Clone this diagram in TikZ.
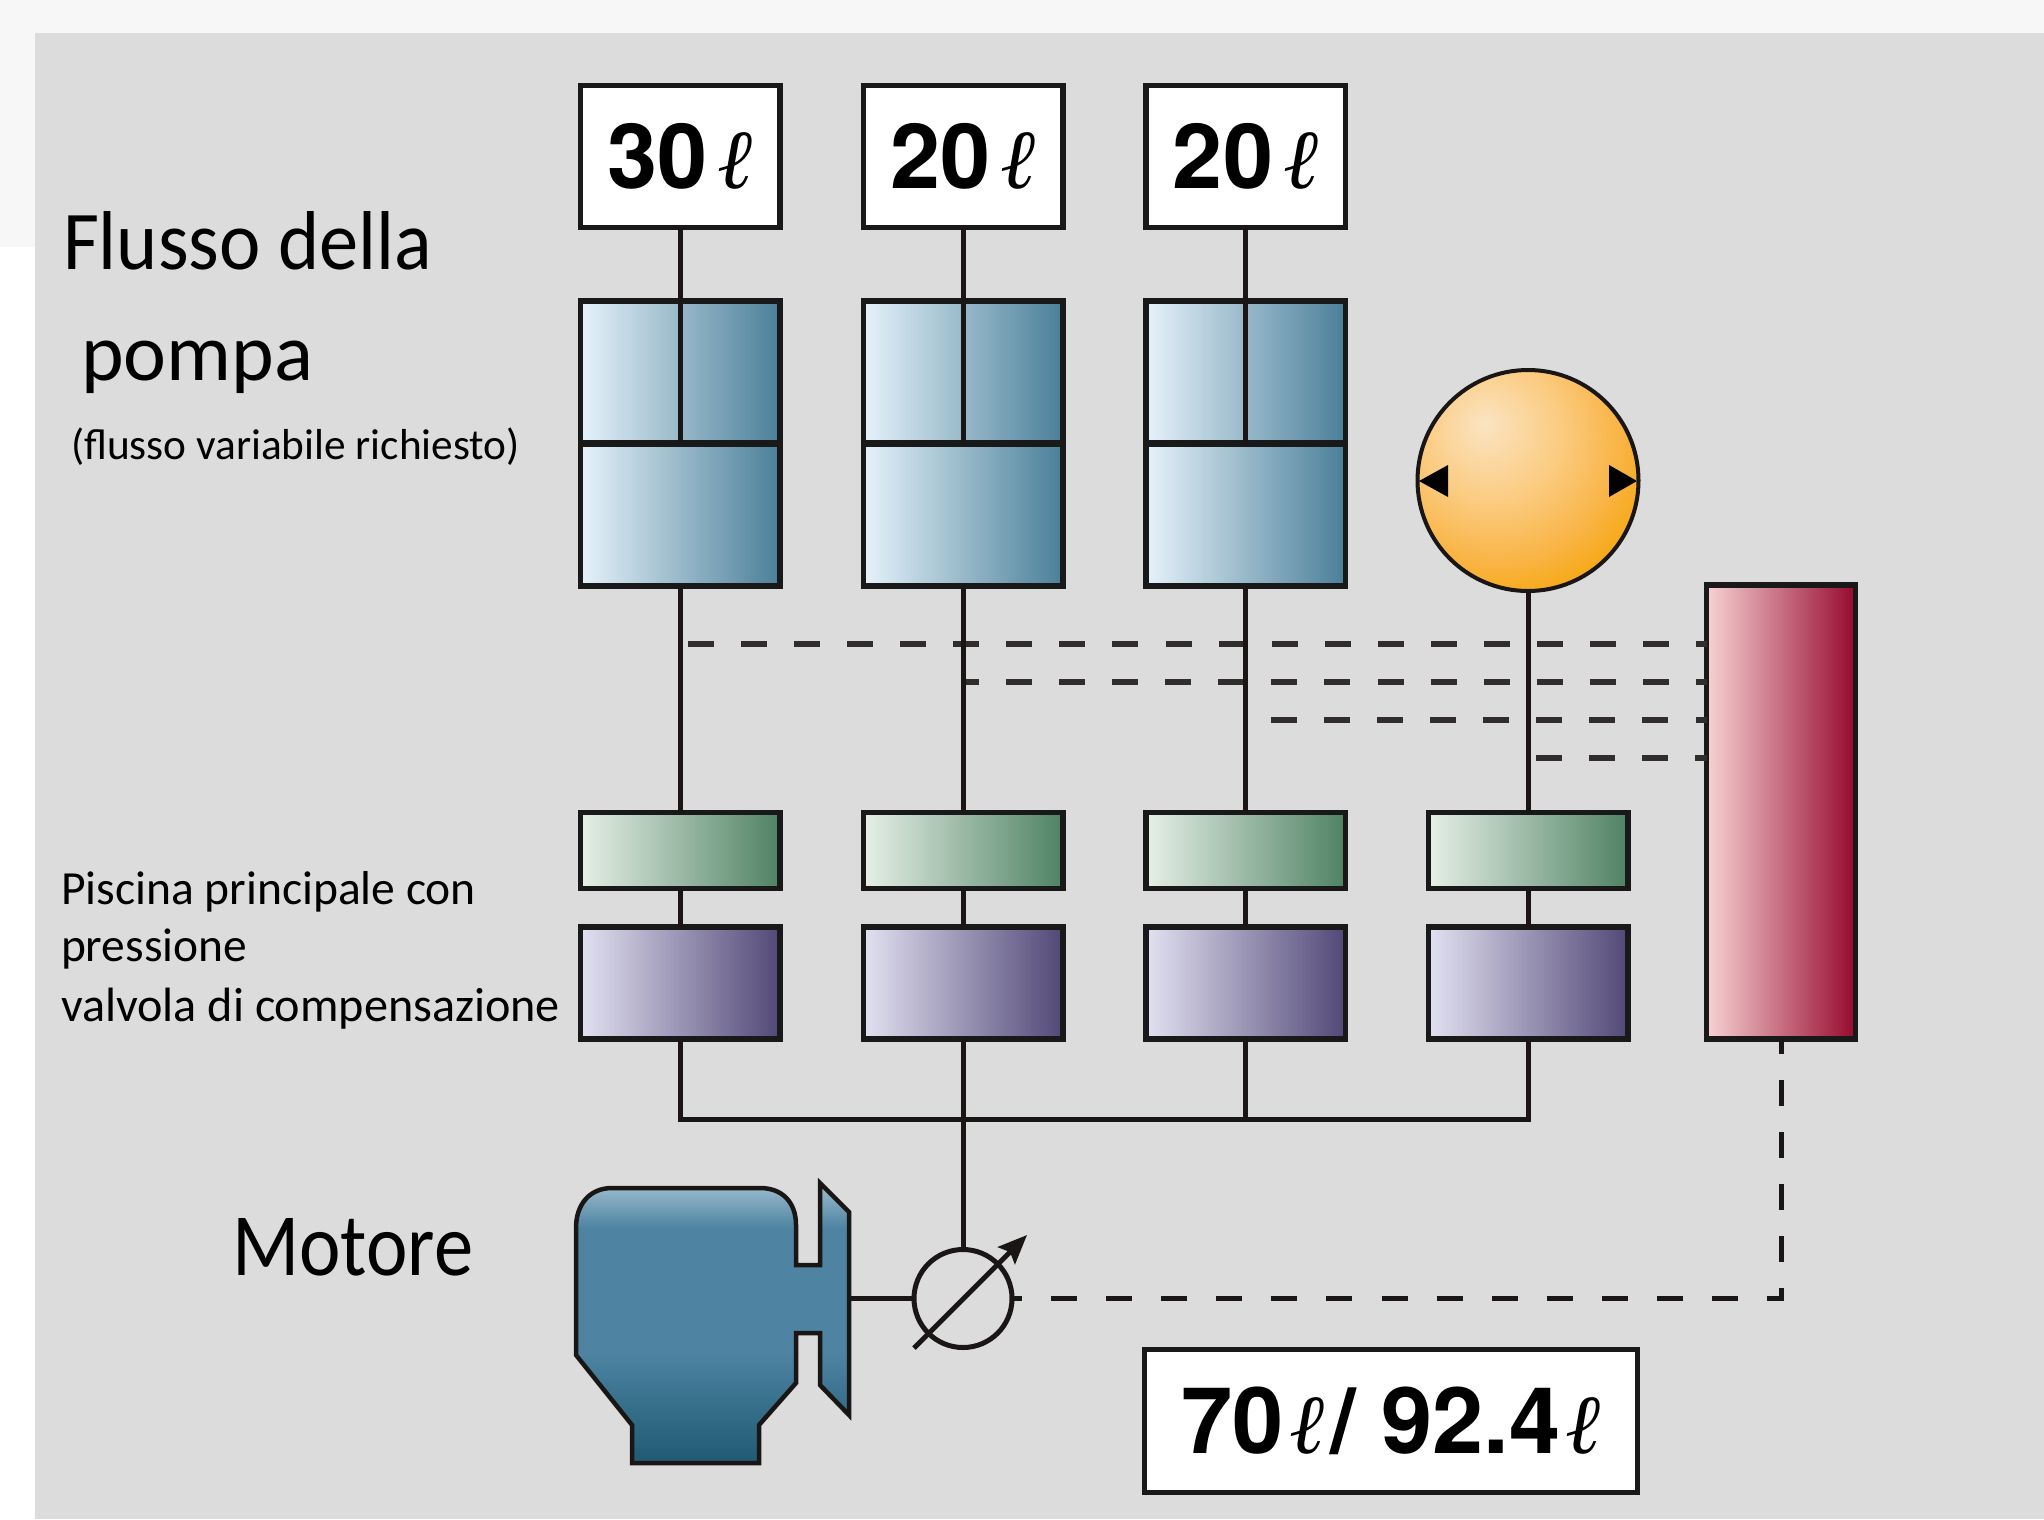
\documentclass[tikz,border=0pt]{standalone}
\usepackage{fontspec}
\usetikzlibrary{arrows.meta}
\setmainfont{Carlito}
\newfontfamily\heros{TeX Gyre Heros}
\newfontfamily\scriptell{Liberation Serif}
\definecolor{panelgray}{HTML}{DCDCDC}
\definecolor{inkdark}{HTML}{1A1616}
\definecolor{motorlow}{HTML}{1F5A73}
\definecolor{motormid}{HTML}{4E84A2}
\definecolor{motortop}{HTML}{A0BED0}
\definecolor{ballA}{HTML}{FBE4C2}
\definecolor{ballB}{HTML}{FBCB80}
\definecolor{ballC}{HTML}{F9B445}
\definecolor{ballD}{HTML}{F5A505}
\definecolor{blueL}{HTML}{E6F2FA}\definecolor{blueM}{HTML}{9CBCCD}\definecolor{blueR}{HTML}{4A7F99}
\definecolor{greenL}{HTML}{E6F0E6}\definecolor{greenM}{HTML}{A2BEA8}\definecolor{greenR}{HTML}{4F8264}
\definecolor{purpL}{HTML}{E2E1F1}\definecolor{purpM}{HTML}{9B94B6}\definecolor{purpR}{HTML}{524877}
\definecolor{redL}{HTML}{F7D2D3}\definecolor{redM}{HTML}{C8707E}\definecolor{redR}{HTML}{970A2F}
\pgfdeclareverticalshading{motorshade}{100bp}{
  color(0bp)=(motorlow); color(25bp)=(motorlow); color(45bp)=(motormid);
  color(67bp)=(motormid); color(75bp)=(motortop); color(100bp)=(motortop)}
\pgfdeclareradialshading{ballshade}{\pgfpoint{-10bp}{13bp}}{
  color(0bp)=(ballA); color(16bp)=(ballB); color(28bp)=(ballC); color(38bp)=(ballD); color(100bp)=(ballD)}
\newcommand{\ellmark}{{\scriptell\fontsize{84}{84}\selectfont\itshape ℓ}}
\newcommand{\flowtext}[1]{{\heros\bfseries\fontsize{90}{90}\selectfont #1}}
\newcommand{\sumtext}[1]{{\heros\bfseries\fontsize{92}{92}\selectfont #1}}
\tikzset{
  x=1pt,y=-1pt,
  conn/.style={draw=inkdark,line width=5pt},
  ctrl/.style={draw=inkdark!90,line width=6pt,dash pattern=on 26pt off 27.06pt},
  boxbase/.style={draw=black!90,line width=5.5pt,outer sep=0pt,inner sep=0pt,anchor=center},
  flowbox/.style={boxbase,fill=white,minimum width=199.5pt,minimum height=142pt},
  bluebox/.style={boxbase,minimum width=199.5pt,minimum height=142.5pt,left color=blueL,middle color=blueM,right color=blueR},
  greenbox/.style={boxbase,minimum width=199.5pt,minimum height=76pt,left color=greenL,middle color=greenM,right color=greenR},
  purplebox/.style={boxbase,minimum width=199.5pt,minimum height=112pt,left color=purpL,middle color=purpM,right color=purpR},
  redbox/.style={boxbase,minimum width=149pt,minimum height=454pt,left color=redL,middle color=redM,right color=redR},
  textlabel/.style={anchor=base west,inner sep=0pt,outer sep=0pt,text=black},
}
\begin{document}
\begin{tikzpicture}
\useasboundingbox (0,0) rectangle (2044,1519);
\fill[white] (0,0) rectangle (2044,1519);
\fill[black!3] (0,0) rectangle (2044,33);
\fill[black!3] (0,33) rectangle (35,247);
\fill[panelgray] (35,33) rectangle (2044,1519);

% dashed control lines (under the solid ones)
\coordinate (d1) at (688,644);
\coordinate (d2) at (962.5,682);
\coordinate (d3) at (1271,720);
\coordinate (d4) at (1536,758);
\node[redbox] (red) at (1781,812) {};
\draw[ctrl] (d1) -- (d1 -| red.west);
\draw[ctrl,dash phase=9.5pt] (d2) -- (d2 -| red.west);
\draw[ctrl] (d3) -- (d3 -| red.west);
\draw[ctrl] (d4) -- (d4 -| red.west);

% columns
\foreach \n/\cx/\txt in {1/680/30,2/963/20,3/1245.5/20}{
  \node[flowbox] (t\n) at (\cx,156.5) {\flowtext{\txt}\kern 10pt\ellmark};
  \node[bluebox] (u\n) at (\cx,372) {};
  \node[bluebox] (l\n) at (\cx,514.5) {};
  \draw[draw=black!90,line width=7pt] (u\n.south west) -- (u\n.south east);
}
\foreach \n/\cx in {1/680,2/963,3/1245.5,4/1528}{
  \node[greenbox] (g\n) at (\cx,850.5) {};
  \node[purplebox] (p\n) at (\cx,983) {};
  \draw[conn] (g\n.south) -- (p\n.north);
}
\foreach \n in {1,2,3}{
  \draw[conn] (t\n.south) -- (u\n.south);
  \draw[conn] (l\n.south) -- (g\n.north);
}

% accumulator ball
\node[draw=inkdark,line width=4pt,circle,minimum size=221pt,inner sep=0pt,outer sep=0pt,shading=ballshade] (ball) at (1528,480.5) {};
\draw[conn] (ball.south) -- (g4.north);
\fill[black] (1419,481) -- (1448,465) -- (1448,497) -- cycle;
\fill[black] (1637,481) -- (1609,465) -- (1609,497) -- cycle;

% bus
\coordinate (bus) at (963,1119);
\node[draw=inkdark,line width=5pt,circle,minimum size=98pt,inner sep=0pt,outer sep=0pt] (pump) at (963,1298.5) {};
\draw[conn] (p1.south) |- (bus) -| (p4.south);
\draw[conn] (p2.south) -- (bus);
\draw[conn] (p3.south) -- (p3.south |- bus);
\draw[conn] (bus) -- (pump.north);

% engine
\path[draw=inkdark,line width=4.5pt,line join=miter,shading=motorshade]
  (576,1355) -- (632,1425) -- (632,1463) -- (759,1463) -- (759,1425) -- (796,1383)
  -- (796,1333) -- (820,1333) -- (820,1385) -- (849,1415) -- (849,1212) -- (820,1183)
  -- (820,1265) -- (796,1265) -- (796,1225)
  .. controls (796,1202) and (782,1188) .. (760,1188)
  -- (612,1188)
  .. controls (590,1188) and (576,1204) .. (576,1228) -- cycle;
\coordinate (shaft) at (849,1298.5);
\draw[conn] (shaft) -- (pump.west);

% adjustable arrow
\coordinate (arrowA) at (914,1348);
\coordinate (arrowB) at (1027,1235);
\draw[draw=inkdark,line width=5pt,-{Stealth[length=29pt,width=24pt,inset=5pt]}] (arrowA) -- (arrowB);

% control line to the pump
\coordinate (corner) at (1781,1298.5);
\draw[draw=inkdark,line width=5.5pt,dash pattern=on 26pt off 29.07pt,dash phase=16pt,shorten >=-2.5pt] (pump.east |- corner) -- (corner);
\draw[draw=inkdark,line width=5pt,dash pattern=on 26pt off 26pt,dash phase=15pt] (corner) -- (red.south);

% total box
\node[boxbase,fill=white,minimum width=493pt,minimum height=143pt] (total) at (1391,1421)
  {\sumtext{70}\kern 6pt\ellmark\kern 6pt\sumtext{/ 92.4}\kern 5pt\ellmark};

% labels
\node[textlabel] (a1) at (63,269) {\resizebox{369pt}{58pt}{Flusso della}};
\node[textlabel] (a2) at (81,380) {\resizebox{232pt}{!}{pompa}};
\node[textlabel] (a3) at (71,459) {\resizebox{449pt}{!}{(flusso variabile richiesto)}};
\node[textlabel] (b1) at (61,904) {\resizebox{415pt}{!}{Piscina principale con}};
\node[textlabel] (b2) at (61,961) {\resizebox{186pt}{!}{pressione}};
\node[textlabel] (b3) at (61,1021) {\resizebox{499pt}{!}{valvola di compensazione}};
\node[textlabel] (c1) at (232,1275) {\resizebox{241pt}{57pt}{Motore}};
\end{tikzpicture}
\end{document}
